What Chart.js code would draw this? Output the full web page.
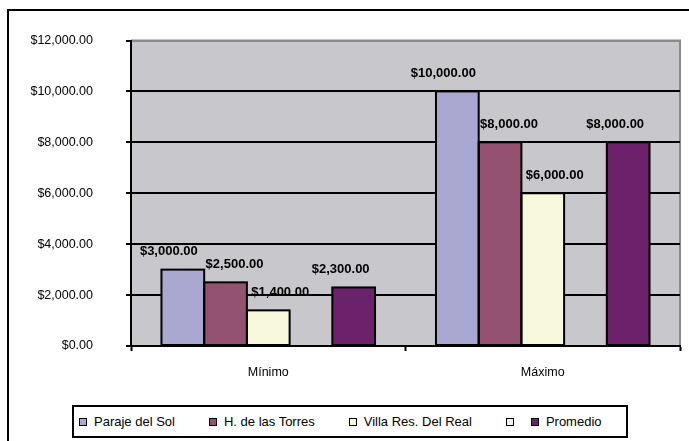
<!DOCTYPE html>
<html>
<head>
<meta charset="utf-8">
<script src="https://cdn.jsdelivr.net/npm/chart.js@4/dist/chart.umd.min.js"></script>
<style>
  html, body { margin: 0; padding: 0; background: #fff; overflow: hidden; }
  #wrap { position: relative; width: 689px; height: 441px; }
  #frame { position: absolute; left: 7px; top: 9px; width: 760px; height: 520px; border: 2px solid #000; }
  #chart { position: absolute; left: 0; top: 0; }
  #legend {
    position: absolute; left: 72px; top: 405px; width: 547px; height: 29px;
    border: 2px solid #000; background: #fff;
    display: flex; align-items: center; padding-left: 5px; box-sizing: content-box;
    font-family: "Liberation Sans", Arial, sans-serif; font-size: 13px; color: #000;
    white-space: nowrap;
  }
  .item { display: flex; align-items: center; flex-shrink: 0; margin-right: 34px; }
  .item.empty { margin-right: 17px; }
  .box { width: 6px; height: 6px; border: 1px solid #000; margin-right: 7px; flex-shrink: 0; }
  .item.empty .box { margin-right: 0; }
</style>
</head>
<body>
<div id="wrap">
  <div id="frame"></div>
  <canvas id="chart" width="689" height="441"></canvas>
  <div id="legend"></div>
</div>
<script>
  // categorías y series (precios por fraccionamiento)
  const categorias = ["Mínimo", "Máximo"];
  const parajeDelSol = [3000, 10000];
  const hDeLasTorres = [2500, 8000];
  const villaResDelReal = [1400, 6000];
  const serieVacia = [null, null];
  const promedio = [2300, 8000];

  const ejeY = { min: 0, max: 12000, paso: 2000 };

  function money(v) {
    const partes = Number(v).toFixed(2).split(".");
    return "$" + partes[0].replace(/\B(?=(\d{3})+(?!\d))/g, ",") + "." + partes[1];
  }

  // fondo gris del área de trazado
  const fondoPlot = {
    id: "fondoPlot",
    beforeDraw(chart) {
      const { ctx, chartArea: a } = chart;
      ctx.save();
      ctx.fillStyle = "#C8C8CC";
      ctx.fillRect(a.left, a.top, a.right - a.left, a.bottom - a.top);
      ctx.strokeStyle = "#8A8A8A";
      ctx.lineWidth = 2;
      ctx.beginPath();
      ctx.moveTo(a.left, a.top);
      ctx.lineTo(a.right, a.top);
      ctx.lineTo(a.right, a.bottom);
      ctx.stroke();
      ctx.restore();
    }
  };

  // contorno negro centrado en el borde de cada barra (las barras vecinas lo comparten)
  // y etiquetas de valor encima
  const etiquetas = {
    id: "etiquetas",
    afterDatasetsDraw(chart) {
      const ctx = chart.ctx;
      ctx.save();
      ctx.strokeStyle = "#000";
      ctx.lineWidth = 2;
      chart.data.datasets.forEach((ds, i) => {
        chart.getDatasetMeta(i).data.forEach((bar, j) => {
          if (ds.data[j] == null) return;
          const w = bar.width;
          ctx.strokeRect(bar.x - w / 2, bar.y, w, bar.base - bar.y);
        });
      });
      ctx.font = "bold 13px 'Liberation Sans', Arial, sans-serif";
      ctx.fillStyle = "#000";
      ctx.textAlign = "center";
      ctx.textBaseline = "middle";
      chart.data.datasets.forEach((ds, i) => {
        chart.getDatasetMeta(i).data.forEach((bar, j) => {
          const v = ds.data[j];
          if (v == null) return;
          ctx.fillText(money(v), bar.x + (ds.labelShift || 0), bar.y - 18);
        });
      });
      ctx.restore();
    }
  };

  const datasets = [
    { label: "Paraje del Sol", data: parajeDelSol, backgroundColor: "#AAA8D0", labelShift: -14 },
    { label: "H. de las Torres", data: hDeLasTorres, backgroundColor: "#925270", labelShift: 9 },
    { label: "Villa Res. Del Real", data: villaResDelReal, backgroundColor: "#F8F8DC", labelShift: 12 },
    { label: "", data: serieVacia, backgroundColor: "#EAF3F8", labelShift: 0 },
    { label: "Promedio", data: promedio, backgroundColor: "#6B226B", labelShift: -13 }
  ].map(d => Object.assign(d, { borderWidth: 0 }));

  const chart = new Chart(document.getElementById("chart"), {
    type: "bar",
    data: { labels: categorias, datasets: datasets },
    plugins: [fondoPlot, etiquetas],
    options: {
      responsive: false,
      animation: false,
      datasets: { bar: { barPercentage: 1, categoryPercentage: 0.778 } },
      layout: { padding: { left: 0, top: 38, right: 9, bottom: 65 } },
      plugins: { legend: { display: false }, tooltip: { enabled: false } },
      scales: {
        x: {
          grid: { drawOnChartArea: false, drawTicks: true, tickLength: 5, tickColor: "#000", tickWidth: 2, offset: true },
          border: { color: "#000", width: 2, z: 1 },
          ticks: { color: "#000", padding: 14, font: { family: "'Liberation Sans', Arial, sans-serif", size: 12.5 } },
          afterFit(scale) { scale.height = 30; }
        },
        y: {
          min: ejeY.min,
          max: ejeY.max,
          ticks: {
            stepSize: ejeY.paso,
            color: "#000",
            padding: 33,
            font: { family: "'Liberation Sans', Arial, sans-serif", size: 12.5 },
            callback: v => money(v)
          },
          grid: {
            color: c => (c.tick && c.tick.value === ejeY.max ? "#8A8A8A" : "#000"),
            lineWidth: 2,
            tickLength: 5,
            tickColor: "#000",
            tickWidth: 2
          },
          border: { color: "#000", width: 2 },
          afterFit(scale) { scale.width = 131; }
        }
      }
    }
  });

  // leyenda en HTML con el recuadro negro
  const legend = document.getElementById("legend");
  chart.data.datasets.forEach(ds => {
    const item = document.createElement("div");
    item.className = "item" + (ds.label ? "" : " empty");
    const box = document.createElement("span");
    box.className = "box";
    box.style.background = ds.backgroundColor;
    item.appendChild(box);
    if (ds.label) {
      const txt = document.createElement("span");
      txt.textContent = ds.label;
      item.appendChild(txt);
    }
    legend.appendChild(item);
  });
</script>
</body>
</html>
